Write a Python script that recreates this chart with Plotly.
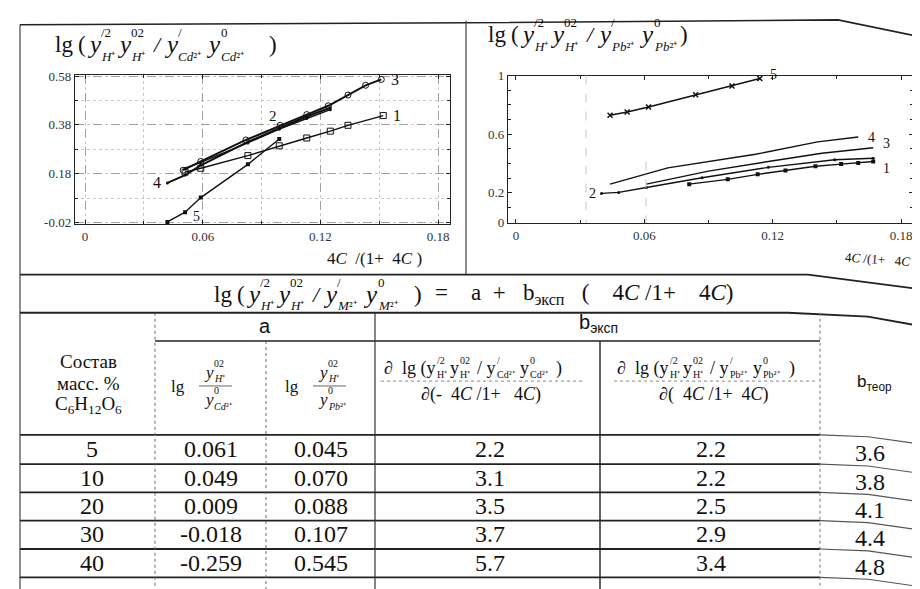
import plotly.graph_objects as go

W, H = 920, 589
SERIF = "Liberation Serif"
SANS = "Liberation Sans"

# ---------------- data ----------------
# left chart: Cd2+
cd1_x = [0.051, 0.059, 0.083, 0.099, 0.113, 0.125, 0.134, 0.152]
cd1_y = [0.186, 0.202, 0.254, 0.294, 0.326, 0.354, 0.378, 0.418]
cd2_x = [0.051, 0.059, 0.083, 0.099, 0.113, 0.125]
cd2_y = [0.202, 0.226, 0.306, 0.362, 0.406, 0.442]
cd3_x = [0.050, 0.059, 0.082, 0.0995, 0.113, 0.124, 0.134, 0.143, 0.151]
cd3_y = [0.194, 0.230, 0.318, 0.378, 0.422, 0.458, 0.502, 0.542, 0.566]
cd4_x = [0.042, 0.051, 0.059, 0.083, 0.099, 0.113, 0.125]
cd4_y = [0.142, 0.174, 0.214, 0.310, 0.366, 0.414, 0.450]
cd5_x = [0.042, 0.051, 0.059, 0.083, 0.099]
cd5_y = [-0.018, 0.022, 0.082, 0.218, 0.322]

# right chart: Pb2+
pb1_x = [0.081, 0.099, 0.113, 0.126, 0.140, 0.152, 0.160, 0.167]
pb1_y = [0.258, 0.291, 0.325, 0.351, 0.380, 0.395, 0.402, 0.413]
pb2_x = [0.040, 0.048, 0.061, 0.087, 0.118, 0.149, 0.167]
pb2_y = [0.195, 0.202, 0.235, 0.302, 0.373, 0.425, 0.435]
pb3_x = [0.061, 0.090, 0.118, 0.143, 0.167]
pb3_y = [0.258, 0.347, 0.413, 0.469, 0.507]
pb4_x = [0.044, 0.071, 0.112, 0.141, 0.160]
pb4_y = [0.258, 0.369, 0.462, 0.547, 0.580]
pb5_x = [0.044, 0.052, 0.062, 0.084, 0.101, 0.114]
pb5_y = [0.729, 0.751, 0.785, 0.869, 0.929, 0.980]

# table
composition = ["5", "10", "20", "30", "40"]
a_cd = [0.061, 0.049, 0.009, -0.018, -0.259]
a_pb = [0.045, 0.070, 0.088, 0.107, 0.545]
b_cd = [2.2, 3.1, 3.5, 3.7, 5.7]
b_pb = [2.2, 2.2, 2.5, 2.9, 3.4]
b_theor = [3.6, 3.8, 4.1, 4.4, 4.8]

left_xticks = [0, 0.06, 0.12, 0.18]
left_yticks = [-0.02, 0.18, 0.38, 0.58]
right_xticks = [0, 0.06, 0.12, 0.18]
right_yticks = [0, 0.2, 0.6, 1]

# ---------------- helpers ----------------
ann = []
shp = []
NB = "\u00a0"


def px(x):
    return x / W


def py(y):
    return 1 - y / H


def txt(x, y, s, size, anchor="left", family=SERIF, color="#111", angle=0):
    ann.append(dict(x=px(x), y=py(y), xref="paper", yref="paper", text=s,
                    showarrow=False, xanchor=anchor, yanchor="middle",
                    textangle=angle, borderpad=0,
                    font=dict(family=family, size=size, color=color)))


def line(x0, y0, x1, y1, w=1.6, color="#222", dash="solid"):
    shp.append(dict(type="line", xref="paper", yref="paper",
                    x0=px(x0), y0=py(y0), x1=px(x1), y1=py(y1),
                    line=dict(color=color, width=w, dash=dash)))


def polyline(pts, w=1.6, color="#222", dash="solid"):
    path = "M " + " L ".join(f"{px(a):.5f},{py(b):.5f}" for a, b in pts)
    shp.append(dict(type="path", xref="paper", yref="paper", path=path,
                    line=dict(color=color, width=w, dash=dash)))


def term(x, y, base, sup, sub, bs, ss, gap, dsup, dsub, italic=True):
    b = f"<i>{base}</i>" if italic else base
    txt(x, y, b, bs)
    txt(x + gap, y - dsup, sup, ss)
    txt(x + gap, y + dsub, sub, ss)


fig = go.Figure()

lk = dict(color="#111", width=1.4)
# left chart traces
fig.add_trace(go.Scatter(x=cd1_x, y=cd1_y, mode="lines+markers", line=lk,
                         marker=dict(symbol="square-open", size=6, color="#111"), xaxis="x", yaxis="y"))
fig.add_trace(go.Scatter(x=cd2_x, y=cd2_y, mode="lines+markers", line=lk,
                         marker=dict(symbol="circle", size=3, color="#111"), xaxis="x", yaxis="y"))
fig.add_trace(go.Scatter(x=cd3_x, y=cd3_y, mode="lines+markers", line=dict(color="#111", width=2),
                         marker=dict(symbol="circle-open", size=6, color="#111"), xaxis="x", yaxis="y"))
fig.add_trace(go.Scatter(x=cd4_x, y=cd4_y, mode="lines+markers", line=dict(color="#111", width=2),
                         marker=dict(symbol="circle", size=3, color="#111"), xaxis="x", yaxis="y"))
fig.add_trace(go.Scatter(x=cd5_x, y=cd5_y, mode="lines+markers", line=lk,
                         marker=dict(symbol="square", size=4, color="#111"), xaxis="x", yaxis="y"))
# right chart traces
fig.add_trace(go.Scatter(x=pb1_x, y=pb1_y, mode="lines+markers", line=lk,
                         marker=dict(symbol="square", size=4, color="#111"), xaxis="x2", yaxis="y2"))
fig.add_trace(go.Scatter(x=pb2_x, y=pb2_y, mode="lines+markers", line=lk,
                         marker=dict(symbol="circle", size=3, color="#111"), xaxis="x2", yaxis="y2"))
fig.add_trace(go.Scatter(x=pb3_x, y=pb3_y, mode="lines", line=lk, xaxis="x2", yaxis="y2"))
fig.add_trace(go.Scatter(x=pb4_x, y=pb4_y, mode="lines", line=lk, xaxis="x2", yaxis="y2"))
fig.add_trace(go.Scatter(x=pb5_x, y=pb5_y, mode="lines+markers", line=lk,
                         marker=dict(symbol="x-thin", size=5, color="#111", line=dict(width=1.5, color="#111")),
                         xaxis="x2", yaxis="y2"))

# curve number labels (data coordinates)
for xs, ys, lab in [(cd1_x[-1], cd1_y[-1], "1"), (cd3_x[-1], cd3_y[-1], "3")]:
    ann.append(dict(x=xs, y=ys, xref="x", yref="y", text=lab, showarrow=False,
                    xanchor="left", xshift=8, font=dict(family=SERIF, size=16, color="#111")))
ann.append(dict(x=cd2_x[3], y=cd2_y[3], xref="x", yref="y", text="2", showarrow=False,
                yshift=13, xshift=-6, font=dict(family=SERIF, size=15, color="#111")))
ann.append(dict(x=cd4_x[0], y=cd4_y[0], xref="x", yref="y", text="4", showarrow=False,
                xanchor="right", xshift=-4, font=dict(family=SERIF, size=16, color="#111")))
ann.append(dict(x=cd5_x[1], y=cd5_y[1], xref="x", yref="y", text="5", showarrow=False,
                xanchor="left", xshift=6, yshift=-4, font=dict(family=SERIF, size=14, color="#111")))
for xs, ys, lab, dy in [(pb1_x[-1], pb1_y[-1], "1", -7), (pb3_x[-1], pb3_y[-1], "3", 4),
                        (pb4_x[-1], pb4_y[-1], "4", 0), (pb5_x[-1], pb5_y[-1], "5", 4)]:
    ann.append(dict(x=xs, y=ys, xref="x2", yref="y2", text=lab, showarrow=False,
                    xanchor="left", xshift=8, yshift=dy, font=dict(family=SERIF, size=14, color="#111")))
ann.append(dict(x=pb2_x[0], y=pb2_y[0], xref="x2", yref="y2", text="2", showarrow=False,
                xanchor="right", xshift=-3, font=dict(family=SERIF, size=14, color="#111")))

# ---------------- axes ----------------
common = dict(showline=True, linecolor="#222", linewidth=1.4, mirror="ticks", ticks="inside",
              ticklen=4, tickcolor="#222", zeroline=False,
              tickfont=dict(family=SERIF, size=13, color="#333"))
lgrid = dict(showgrid=True, gridcolor="#a0a0a0", griddash="dash", gridwidth=1)

fig.update_layout(
    width=W, height=H, margin=dict(l=0, r=0, t=0, b=0),
    paper_bgcolor="white", plot_bgcolor="white", showlegend=False,
    xaxis=dict(domain=[67 / W, 442 / W], range=[-0.0051, 0.186], tickvals=left_xticks,
               ticktext=["0", "0.06", "0.12", "0.18"], anchor="y",
               minor=dict(dtick=0.03, tick0=0, ticks="inside", ticklen=3, showgrid=True,
                          gridcolor="#c8c8c8", griddash="dot"), **common, **lgrid),
    yaxis=dict(domain=[1 - 214 / H, 1 - 61 / H], range=[-0.026, 0.586], tickvals=left_yticks,
               ticktext=["-0.02", "0.18", "0.38", "0.58"], anchor="x",
               minor=dict(dtick=0.1, tick0=-0.02, ticks="inside", ticklen=3, showgrid=True,
                          gridcolor="#c8c8c8", griddash="dot"), **common, **lgrid),
    xaxis2=dict(domain=[500 / W, 905 / W], range=[-0.0037, 0.1856], tickvals=right_xticks,
                ticktext=["0", "0.06", "0.12", "0.18"], anchor="y2", showgrid=False,
                minor=dict(dtick=0.03, tick0=0, ticks="inside", ticklen=3, showgrid=False), **common),
    yaxis2=dict(domain=[1 - 213 / H, 1 - 62 / H], range=[-0.0067, 1.0], tickvals=right_yticks,
                ticktext=["0", "0.2", "0.6", "1"], anchor="x2", showgrid=False,
                minor=dict(dtick=0.1, tick0=0, ticks="inside", ticklen=3, showgrid=False), **common),
)
# faint dashed guides in the right panel (as in the scan)
line(578, 62, 578, 213, w=1, color="#c4c4c4", dash="dash")
line(638, 150, 638, 213, w=1, color="#c4c4c4", dash="dash")


# ---------------- titles ----------------
def big_formula(x, T, ion, close_x):
    txt(x, T, "lg", 23); txt(x + 23, T, "(", 23)
    term(x + 32, T, "y", "/2", "<i>H</i>⁺", 25, 13, 14, 12, 12)
    term(x + 62, T, "y", "02", "<i>H</i>⁺", 25, 13, 14, 12, 12)
    txt(x + 97, T, "<i>/</i>", 22)
    term(x + 109, T, "y", "/", f"<i>{ion}</i>²⁺", 25, 13, 14, 12, 12)
    term(x + 151, T, "y", "0", f"<i>{ion}</i>²⁺", 25, 13, 15, 12, 12)
    txt(x + close_x, T, ")", 23)


big_formula(46, 30, "Cd", 214)
big_formula(479, 20, "Pb", 192)

# axis titles
txt(366, 249, f"4<i>C</i>{NB}{NB}/(1+{NB}{NB}4<i>C</i>{NB})", 17, anchor="center")
txt(873, 250, f"4<i>C</i>{NB}/(1+{NB}{NB} 4<i>C</i>{NB})", 13, anchor="center", angle=4)

# equation row
T = 286
txt(205, T, "lg", 23); txt(228, T, "(", 23)
term(237, T, "y", "/2", "<i>H</i>⁺", 25, 13, 14, 12, 12)
term(267, T, "y", "02", "<i>H</i>⁺", 25, 13, 14, 12, 12)
txt(302, T, "<i>/</i>", 22)
term(314, T, "y", "/", "<i>M</i>²⁺", 25, 13, 14, 12, 12)
term(354, T, "y", "0", "<i>M</i>²⁺", 25, 13, 15, 12, 12)
txt(405, T, ")", 23)
txt(426, T, f"={NB*4}a{NB*2}+{NB*3}b<sub>эксп</sub>{NB*3}({NB*4}4<i>C</i>{NB}/1+{NB*4}4<i>C</i>)", 23)

# ---------------- table header ----------------
txt(257, 319, "a", 20, anchor="center", family=SANS)
txt(590, 316, "b<sub>эксп</sub>", 20, anchor="center", family=SANS)
txt(80, 355, "Состав", 19, anchor="center")
txt(80, 377, "масс. %", 19, anchor="center")
txt(80, 400, "C<sub>6</sub>H<sub>12</sub>O<sub>6</sub>", 19, anchor="center")
txt(866, 377, "b<sub>теор</sub>", 17, anchor="center", family=SANS)

# lg fractions (col 2, col 3)
for xl, ion in [(162, "Cd"), (276, "Pb")]:
    txt(xl, 381, "lg", 17)
    term(xl + 33, 366, "y", "02", "<i>H</i>⁺", 17, 10, 10, 9, 6)
    line(xl + 29, 380, xl + 62, 380, w=1, color="#666")
    term(xl + 33, 394, "y", "0", f"<i>{ion}</i>²⁺", 17, 10, 10, 9, 7)

# partial-derivative fractions (col 4, col 5)
for x0, ion, dsign in [(375, "Cd", f"∂(-{NB*2}4<i>C</i>{NB}/1+{NB*3}4<i>C</i>)"),
                       (608, "Pb", f"∂({NB*2}4<i>C</i>{NB}/1+{NB*2}4<i>C</i>)")]:
    Y = 362
    txt(x0, Y, f"∂{NB*2}lg{NB}(y", 18)
    txt(x0 + 53, Y - 8, "/2", 10); txt(x0 + 53, Y + 6, "H⁺", 10)
    txt(x0 + 66, Y, "y", 18)
    txt(x0 + 76, Y - 8, "02", 10); txt(x0 + 76, Y + 6, "H⁺", 10)
    txt(x0 + 93, Y, f"/{NB}y", 18)
    txt(x0 + 113, Y - 8, "/", 10); txt(x0 + 113, Y + 6, f"{ion}²⁺", 10)
    txt(x0 + 136, Y, "y", 18)
    txt(x0 + 146, Y - 8, "0", 10); txt(x0 + 146, Y + 6, f"{ion}²⁺", 10)
    txt(x0 + 172, Y, ")", 18)
    line(x0 - 2, 375, x0 + 200, 375, w=1, color="#888", dash="dot")
    txt(x0 + 98, 389, dsign, 18, anchor="center")

# ---------------- table body ----------------
col_x = [84, 203, 313, 482, 703, 862]
row_y = [445, 474, 503, 532, 561]
for i in range(len(composition)):
    vals = [composition[i], f"{a_cd[i]:.3f}", f"{a_pb[i]:.3f}", f"{b_cd[i]:.1f}",
            f"{b_pb[i]:.1f}", f"{b_theor[i]:.1f}"]
    for j, v in enumerate(vals):
        yy = row_y[i] + (4 if j == 5 else 0)
        txt(col_x[j], yy, v, 24, anchor="center")

# ---------------- frame lines ----------------
line(12, 10, 12, 589, w=1.2, color="#444")
polyline([(12, 10), (458, 8), (830, 5), (920, 24)], w=1.6)
line(458, 6, 458, 266, w=1.2, color="#444")
polyline([(12, 266), (800, 266), (920, 282)], w=1.8)
polyline([(12, 305), (780, 305), (860, 309), (920, 320)], w=1.8)
line(147, 334, 812, 334, w=1.6)
for yy in [430, 460, 489, 518, 547, 576]:
    line(12, yy, 812, yy, w=1.8)
    polyline([(812, yy), (860, yy + 2), (915, yy + 10)], w=1.2, color="#555")
line(147, 305, 147, 589, w=1, color="#666", dash="dot")
line(258, 334, 258, 589, w=1, color="#666", dash="dot")
line(367, 305, 367, 589, w=1.2, color="#333")
line(592, 334, 592, 589, w=1.4, color="#222")
line(812, 305, 812, 589, w=1, color="#777", dash="dot")

fig.update_layout(annotations=ann, shapes=shp)
fig.write_html("out.html")
